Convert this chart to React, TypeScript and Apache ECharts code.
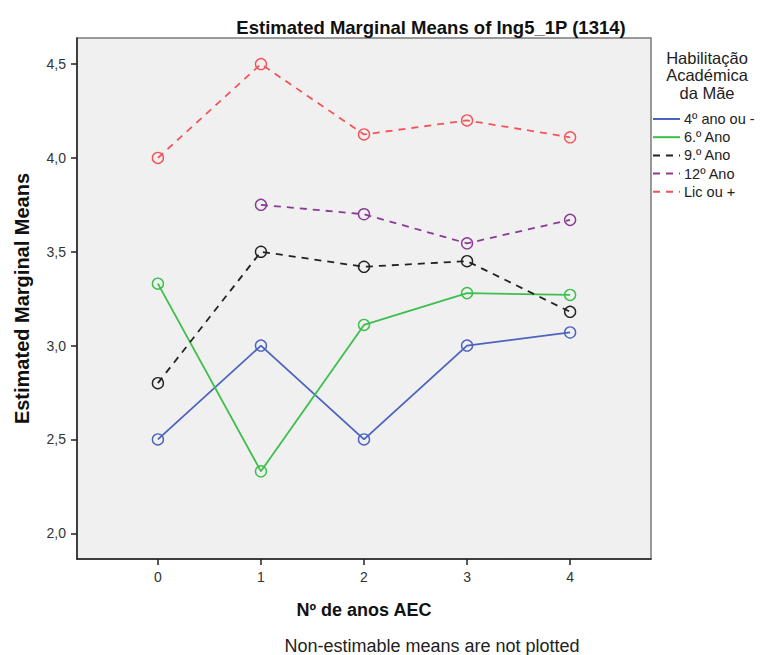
import React, { useEffect, useRef } from "react";
import * as echarts from "echarts";

const xTicks = [0, 1, 2, 3, 4];
const yTicks = [2.0, 2.5, 3.0, 3.5, 4.0, 4.5];

const seriesNames = ["4º ano ou -", "6.º Ano", "9.º Ano", "12º Ano", "Lic ou +"];
const seriesColors = ["#4c62bf", "#3cbf4b", "#222222", "#8b3a96", "#f4535b"];
const seriesDashed = [false, false, true, true, true];

const blueValues: [number, number][] = [[0, 2.5], [1, 3.0], [2, 2.5], [3, 3.0], [4, 3.07]];
const greenValues: [number, number][] = [[0, 3.33], [1, 2.33], [2, 3.11], [3, 3.28], [4, 3.27]];
const blackValues: [number, number][] = [[0, 2.8], [1, 3.5], [2, 3.42], [3, 3.45], [4, 3.18]];
const purpleValues: [number, number][] = [[1, 3.75], [2, 3.7], [3, 3.545], [4, 3.67]];
const redValues: [number, number][] = [[0, 4.0], [1, 4.5], [2, 4.125], [3, 4.2], [4, 4.11]];

const allValues = [blueValues, greenValues, blackValues, purpleValues, redValues];

const FONT = "'Liberation Sans', Arial, sans-serif";

export default function App() {
  const ref = useRef<HTMLDivElement>(null);
  useEffect(() => {
    document.body.style.margin = "0";
    const chart = echarts.init(ref.current!, null, { renderer: "svg" });
    const legendX = 653;
    const legendY0 = 119;
    const legendStep = 18.2;
    const legendGraphics: any[] = [];
    seriesNames.forEach((name, i) => {
      const y = legendY0 + i * legendStep;
      legendGraphics.push({
        type: "line",
        shape: { x1: legendX, y1: y, x2: legendX + 27, y2: y },
        style: {
          stroke: seriesColors[i],
          lineWidth: 2,
          lineDash: seriesDashed[i] ? [7, 6] : null,
        },
      });
      legendGraphics.push({
        type: "text",
        x: legendX + 31,
        y: y,
        style: {
          text: name,
          fill: "#222",
          font: `14.5px ${FONT}`,
          textVerticalAlign: "middle",
        },
      });
    });

    const option: any = {
      animation: false,
      backgroundColor: "#ffffff",
      grid: {
        left: 77,
        top: 38,
        right: 109,
        bottom: 96,
        show: true,
        backgroundColor: "#f0f0f0",
        borderColor: "#7a7a7a",
        borderWidth: 1.5,
      },
      title: {
        text: "Estimated Marginal Means of Ing5_1P (1314)",
        left: 426,
        textAlign: "center",
        top: 13,
        textStyle: { fontFamily: FONT, fontSize: 18.5, fontWeight: "bold", color: "#111" },
      },
      xAxis: {
        type: "value",
        min: -0.785,
        max: 4.785,
        name: "Nº de anos AEC",
        nameLocation: "middle",
        nameGap: 42,
        nameTextStyle: { fontFamily: FONT, fontSize: 18, fontWeight: "bold", color: "#111" },
        axisLine: { show: true, onZero: false, lineStyle: { color: "#222", width: 1.5 } },
        axisTick: { show: true, customValues: xTicks, length: 6, lineStyle: { color: "#222", width: 1.5 } },
        axisLabel: {
          customValues: xTicks,
          fontFamily: FONT,
          fontSize: 14,
          color: "#333",
          margin: 11,
        },
        splitLine: { show: false },
      },
      yAxis: {
        type: "value",
        min: 1.863,
        max: 4.639,
        name: "Estimated Marginal Means",
        nameLocation: "middle",
        nameGap: 45,
        nameTextStyle: { fontFamily: FONT, fontSize: 20, fontWeight: "bold", color: "#111" },
        axisLine: { show: true, onZero: false, lineStyle: { color: "#222", width: 1.5 } },
        axisTick: { show: true, customValues: yTicks, length: 6, lineStyle: { color: "#222", width: 1.5 } },
        axisLabel: {
          customValues: yTicks,
          fontFamily: FONT,
          fontSize: 14,
          color: "#333",
          margin: 11,
          formatter: (v: number) => v.toFixed(1).replace(".", ","),
        },
        splitLine: { show: false },
      },
      series: seriesNames.map((name, i) => ({
        type: "line",
        name,
        data: allValues[i],
        symbol: "circle",
        symbolSize: 11,
        showSymbol: true,
        lineStyle: {
          color: seriesColors[i],
          width: 1.8,
          type: seriesDashed[i] ? [7, 6] : "solid",
        },
        itemStyle: {
          color: "rgba(0,0,0,0)",
          borderColor: seriesColors[i],
          borderWidth: 1.4,
        },
        emphasis: { disabled: true },
      })),
      graphic: [
        {
          type: "text",
          x: 707,
          y: 49,
          style: {
            text: "Habilitação\nAcadémica\nda Mãe",
            fill: "#222",
            font: `16.5px ${FONT}`,
            textAlign: "center",
            lineHeight: 17.5,
          },
        },
        ...legendGraphics,
        {
          type: "text",
          x: 432,
          y: 646,
          style: {
            text: "Non-estimable means are not plotted",
            fill: "#222",
            font: `18px ${FONT}`,
            textAlign: "center",
            textVerticalAlign: "middle",
          },
        },
      ],
    };
    chart.setOption(option);
    return () => chart.dispose();
  }, []);
  return (
    <div
      ref={ref}
      style={{ position: "fixed", left: 0, top: 0, width: 760, height: 655 }}
    />
  );
}
